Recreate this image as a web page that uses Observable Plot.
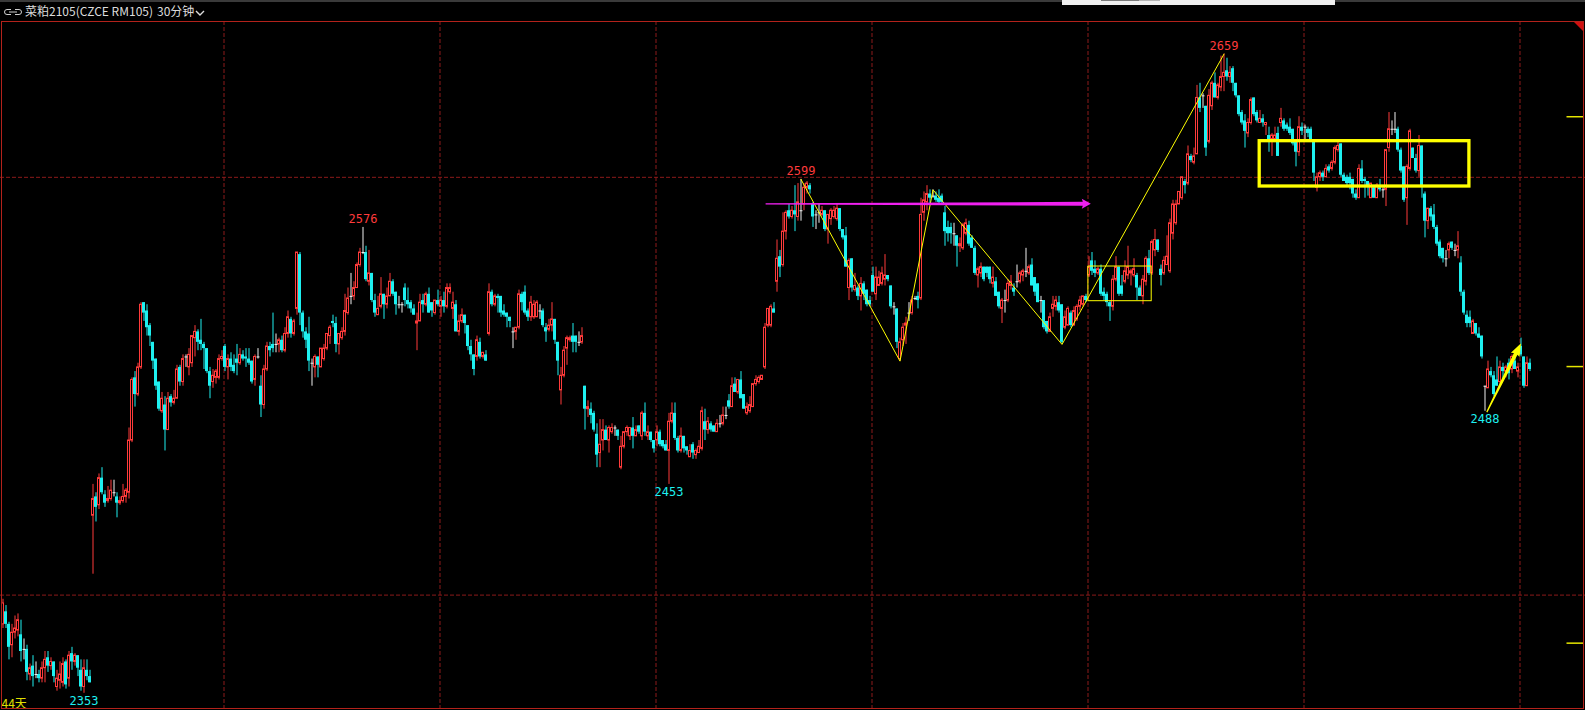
<!DOCTYPE html>
<html>
<head>
<meta charset="utf-8">
<script src="https://cdn.jsdelivr.net/npm/d3@7"></script>
<script src="https://cdn.jsdelivr.net/npm/@observablehq/plot@0.6"></script>
<style>
html,body{margin:0;padding:0;background:#000;}
#wrap{position:relative;width:1585px;height:710px;overflow:hidden;background:#000;}
#topstrip{position:absolute;left:0;top:0;width:1585px;height:2px;background:#3a3a3a;}
#popup{position:absolute;left:1062px;top:0;width:273px;height:5px;background:#efefef;}
#popbar1{position:absolute;left:39px;top:0;width:38px;height:1px;background:#7a7a7a;}
#popbar2{position:absolute;left:77px;top:0;width:21px;height:1px;background:#b4b4b4;}
#icon{position:absolute;left:4px;top:8px;}
.ttl{position:absolute;top:4px;font-family:"Noto Sans CJK SC","Noto Sans",sans-serif;font-size:12px;line-height:14px;color:#dcdcdc;white-space:pre;}
#chev{position:absolute;left:195px;top:10px;}
#chart{position:absolute;left:0;top:21px;}
#frame{position:absolute;left:1px;top:21px;width:1583px;height:688px;border:1px solid #b3221b;box-sizing:border-box;pointer-events:none;}
#corner{position:absolute;left:1574px;top:22px;width:0;height:0;border-top:9px solid #d01010;border-left:9px solid transparent;}
</style>
</head>
<body>
<div id="wrap">
  <div id="topstrip"></div>
  <div id="popup"><div id="popbar1"></div><div id="popbar2"></div></div>
  <svg id="icon" width="18" height="8" viewBox="0 0 18 8">
    <path d="M7,1.5 H3 A2.5,2.5 0 0 0 3,6.5 H7 M11,1.5 H15 A2.5,2.5 0 0 1 15,6.5 H11 M5,4 H13" fill="none" stroke="#cfcfcf" stroke-width="1"/>
  </svg>
  <div class="ttl" style="left:25px">菜粕2105(CZCE RM105)</div>
  <div class="ttl" style="left:157px">30分钟</div>
  <svg id="chev" width="10" height="7" viewBox="0 0 10 7"><polyline points="1,1 5,5 9,1" fill="none" stroke="#dcdcdc" stroke-width="1.4"/></svg>
  <div id="chart"></div>
  <div id="frame"></div>
  <div id="corner"></div>
</div>
<script>
// ---------- candle data (30-minute bars, oldest first) ----------
const opens = [
2386,2392,2386,2376,2382,2383,2381,2374,2374,2362,
2366,2362,2362,2360,2365,2370,2366,2368,2356,2359,
2358,2368,2360,2372,2368,2371,2364,2356,2364,2361,
2438,2447,2443,2456,2448,2445,2446,2449,2447,2444,
2445,2447,2449,2474,2504,2496,2509,2540,2536,2529,
2521,2513,2502,2488,2491,2479,2495,2492,2494,2509,
2502,2514,2509,2511,2523,2526,2522,2520,2518,2507,
2502,2504,2504,2513,2519,2509,2513,2510,2513,2511,
2515,2514,2513,2512,2503,2514,2500,2491,2508,2519,
2520,2520,2520,2522,2517,2525,2532,2525,2537,2563,
2535,2526,2525,2511,2509,2514,2509,2513,2518,2524,
2531,2530,2520,2523,2526,2535,2543,2543,2547,2558,
2564,2564,2550,2554,2541,2534,2538,2544,2539,2543,
2550,2545,2539,2539,2547,2541,2540,2537,2530,2531,
2541,2539,2544,2540,2535,2541,2538,2541,2538,2545,
2537,2539,2526,2531,2534,2529,2519,2515,2514,2521,
2514,2515,2525,2545,2539,2543,2543,2536,2535,2533,
2526,2526,2528,2544,2545,2536,2533,2533,2533,2536,
2536,2528,2527,2529,2532,2521,2498,2505,2518,2522,
2524,2524,2521,2521,2500,2489,2489,2487,2477,2468,
2474,2479,2474,2478,2480,2479,2461,2471,2478,2476,
2480,2476,2481,2476,2487,2476,2478,2474,2474,2478,
2474,2472,2469,2483,2487,2475,2469,2476,2471,2466,
2472,2467,2468,2470,2483,2479,2482,2481,2478,2482,
2482,2486,2493,2490,2501,2497,2503,2496,2487,2488,
2490,2501,2502,2503,2509,2529,2529,2537,2550,2562,
2558,2574,2584,2581,2584,2581,2584,2587,2595,2596,
2587,2582,2583,2582,2584,2575,2580,2581,2580,2585,
2575,2572,2547,2561,2546,2547,2543,2549,2546,2541,
2553,2544,2548,2549,2551,2553,2548,2538,2537,2513,
2522,2529,2535,2535,2542,2543,2542,2583,2588,2592,
2591,2591,2590,2591,2583,2576,2576,2573,2572,2567,
2566,2573,2577,2571,2566,2553,2554,2557,2557,2557,
2549,2550,2545,2537,2541,2541,2548,2547,2550,2550,
2553,2555,2554,2558,2552,2549,2541,2541,2531,2526,
2537,2538,2540,2539,2528,2529,2535,2529,2532,2538,
2539,2543,2553,2560,2556,2554,2556,2545,2544,2540,
2538,2551,2557,2548,2550,2553,2554,2553,2553,2547,
2543,2550,2561,2554,2565,2570,2556,2554,2558,2555,
2573,2578,2587,2590,2598,2597,2610,2607,2611,2638,
2639,2634,2617,2634,2645,2638,2643,2648,2651,2648,
2652,2645,2639,2631,2627,2621,2626,2638,2631,2626,
2628,2625,2620,2618,2618,2621,2626,2627,2625,2624,
2623,2617,2612,2624,2624,2623,2623,2618,2595,2600,
2602,2600,2605,2604,2607,2613,2616,2601,2600,2600,
2599,2592,2590,2604,2599,2598,2590,2595,2590,2595,
2594,2594,2614,2623,2623,2623,2613,2605,2590,2604,
2614,2609,2603,2615,2592,2579,2585,2582,2576,2569,
2566,2561,2565,2569,2565,2565,2559,2545,2534,2533,
2525,2530,2525,2524,2500,2499,2507,2505,2503,2502,
2509,2507,2511,2508,2512,2507,2519,2514,2500,2511
];
const highs = [
2398,2395,2387,2386,2390,2391,2388,2379,2376,2367,
2371,2368,2364,2368,2373,2373,2370,2368,2364,2368,
2370,2369,2373,2375,2372,2371,2369,2369,2369,2364,
2453,2449,2458,2461,2450,2452,2455,2455,2449,2447,
2453,2451,2480,2504,2507,2511,2540,2540,2539,2530,
2521,2513,2502,2497,2495,2497,2496,2498,2510,2510,
2515,2515,2518,2524,2529,2527,2532,2521,2518,2509,
2508,2508,2515,2517,2520,2515,2516,2515,2520,2518,
2517,2518,2518,2512,2515,2518,2505,2510,2521,2521,
2535,2525,2523,2524,2528,2536,2533,2532,2564,2564,
2536,2528,2533,2513,2515,2514,2518,2520,2525,2529,
2534,2533,2525,2528,2544,2547,2554,2550,2559,2566,
2576,2567,2565,2554,2544,2543,2552,2544,2547,2554,
2551,2545,2543,2540,2549,2547,2541,2539,2535,2544,
2544,2545,2547,2540,2541,2546,2543,2545,2549,2549,
2545,2541,2534,2537,2534,2529,2522,2515,2524,2523,
2516,2517,2549,2546,2544,2544,2543,2539,2535,2533,
2528,2528,2546,2545,2548,2537,2543,2541,2541,2539,
2537,2530,2532,2540,2532,2521,2509,2519,2524,2524,
2530,2524,2526,2528,2500,2493,2492,2488,2482,2484,
2484,2481,2481,2482,2481,2479,2476,2478,2481,2480,
2485,2481,2481,2488,2492,2481,2478,2474,2481,2479,
2474,2474,2487,2492,2492,2476,2480,2476,2471,2472,
2473,2470,2474,2490,2489,2485,2483,2481,2484,2486,
2490,2490,2496,2504,2504,2503,2507,2496,2492,2495,
2501,2505,2505,2505,2530,2537,2539,2540,2570,2565,
2583,2584,2587,2586,2596,2597,2599,2597,2598,2597,
2588,2584,2587,2586,2584,2582,2585,2586,2587,2585,
2575,2576,2561,2561,2554,2548,2552,2550,2546,2543,
2557,2557,2555,2557,2563,2553,2548,2540,2537,2523,
2530,2533,2540,2543,2543,2545,2590,2593,2596,2594,
2594,2593,2594,2592,2586,2579,2578,2578,2572,2571,
2578,2580,2579,2572,2567,2557,2559,2557,2557,2557,
2557,2552,2545,2542,2546,2551,2553,2549,2558,2555,
2556,2566,2558,2561,2552,2549,2543,2541,2531,2535,
2543,2543,2543,2539,2536,2538,2536,2538,2539,2543,
2543,2544,2562,2564,2560,2557,2558,2547,2545,2541,
2553,2562,2557,2553,2560,2567,2556,2561,2554,2548,
2553,2562,2565,2570,2575,2570,2558,2562,2572,2580,
2589,2589,2593,2600,2599,2615,2611,2614,2644,2645,
2640,2634,2642,2646,2650,2645,2658,2659,2657,2653,
2653,2645,2639,2632,2630,2628,2638,2638,2632,2632,
2630,2626,2624,2621,2624,2624,2633,2628,2626,2628,
2623,2617,2629,2626,2625,2624,2624,2618,2602,2603,
2603,2606,2606,2608,2615,2617,2616,2602,2601,2602,
2599,2594,2606,2608,2600,2598,2597,2596,2597,2599,
2595,2613,2631,2627,2631,2624,2614,2605,2606,2623,
2614,2611,2620,2615,2593,2585,2586,2587,2577,2570,
2566,2565,2569,2569,2568,2574,2562,2546,2536,2536,
2532,2530,2528,2524,2500,2512,2509,2507,2514,2512,
2511,2510,2513,2515,2514,2511,2523,2514,2514,2513
];
const lows = [
2384,2384,2369,2370,2379,2380,2368,2369,2359,2359,
2356,2360,2358,2358,2358,2363,2364,2358,2354,2355,
2356,2355,2356,2364,2366,2361,2354,2353,2359,2358,
2410,2435,2441,2448,2442,2444,2445,2447,2437,2443,
2444,2444,2446,2473,2490,2495,2508,2531,2524,2519,
2508,2498,2488,2487,2469,2479,2490,2491,2494,2500,
2500,2509,2505,2509,2514,2517,2517,2508,2506,2494,
2499,2501,2503,2512,2507,2503,2507,2506,2505,2510,
2512,2509,2510,2501,2500,2513,2485,2489,2507,2514,
2516,2516,2516,2516,2516,2523,2523,2524,2534,2529,
2523,2518,2507,2500,2504,2504,2509,2512,2517,2520,
2528,2516,2515,2522,2524,2534,2539,2541,2547,2557,
2563,2550,2548,2540,2533,2534,2537,2532,2537,2543,
2543,2534,2537,2535,2538,2537,2535,2534,2517,2531,
2535,2538,2535,2533,2534,2538,2533,2535,2537,2544,
2532,2526,2524,2530,2525,2517,2512,2505,2512,2513,
2513,2512,2524,2538,2538,2535,2533,2533,2528,2528,
2518,2522,2527,2536,2534,2531,2531,2532,2533,2532,
2528,2521,2526,2526,2520,2505,2491,2504,2510,2521,
2516,2516,2519,2520,2479,2485,2482,2478,2461,2461,
2469,2474,2468,2477,2476,2474,2460,2470,2476,2474,
2470,2476,2477,2474,2476,2474,2473,2468,2471,2471,
2470,2469,2453,2482,2474,2468,2468,2468,2467,2466,
2465,2465,2468,2469,2474,2477,2478,2478,2478,2480,
2481,2484,2489,2490,2497,2496,2494,2489,2486,2487,
2490,2500,2501,2503,2508,2528,2528,2535,2545,2552,
2557,2570,2580,2580,2574,2579,2579,2584,2592,2592,
2576,2575,2578,2581,2574,2568,2577,2580,2579,2574,
2570,2557,2541,2545,2545,2541,2536,2541,2538,2538,
2545,2541,2548,2548,2548,2550,2537,2534,2518,2512,
2519,2520,2531,2534,2541,2537,2541,2579,2584,2587,
2590,2588,2587,2587,2567,2569,2568,2567,2557,2564,
2565,2572,2567,2566,2553,2547,2552,2550,2552,2549,
2547,2543,2537,2530,2535,2540,2546,2543,2547,2549,
2550,2552,2553,2548,2543,2540,2535,2527,2525,2526,
2533,2536,2535,2520,2527,2529,2528,2529,2531,2536,
2538,2540,2552,2553,2552,2553,2543,2541,2538,2531,
2536,2550,2543,2543,2549,2551,2548,2552,2541,2543,
2539,2548,2553,2553,2562,2564,2548,2553,2558,2554,
2570,2577,2587,2589,2592,2596,2607,2606,2611,2631,
2633,2610,2616,2632,2638,2637,2641,2641,2646,2645,
2641,2638,2629,2625,2614,2619,2625,2629,2626,2626,
2624,2620,2612,2610,2617,2610,2624,2622,2622,2620,
2615,2605,2610,2620,2618,2619,2618,2598,2593,2598,
2598,2600,2602,2603,2606,2612,2600,2598,2596,2594,
2590,2589,2590,2597,2590,2591,2590,2590,2590,2593,
2590,2586,2612,2620,2621,2612,2602,2588,2577,2603,
2609,2602,2600,2590,2571,2575,2579,2575,2567,2561,
2559,2557,2561,2565,2562,2561,2543,2534,2528,2528,
2525,2524,2523,2513,2488,2499,2504,2495,2500,2500,
2503,2504,2503,2506,2508,2504,2514,2499,2500,2507
];
const closes = [
2396,2386,2375,2382,2384,2388,2373,2374,2363,2365,
2361,2362,2360,2365,2369,2366,2368,2361,2360,2362,
2367,2357,2371,2368,2371,2365,2356,2365,2361,2358,
2446,2442,2456,2449,2444,2446,2450,2449,2444,2445,
2447,2450,2474,2503,2496,2509,2539,2535,2528,2524,
2512,2500,2489,2494,2479,2494,2492,2494,2508,2502,
2513,2514,2515,2524,2526,2521,2520,2518,2507,2500,
2505,2507,2513,2514,2509,2513,2509,2507,2511,2515,
2513,2513,2511,2502,2514,2514,2491,2508,2519,2517,
2518,2520,2522,2517,2525,2533,2525,2531,2564,2535,
2526,2522,2512,2511,2514,2510,2518,2518,2525,2528,
2530,2520,2525,2526,2536,2542,2543,2547,2558,2564,
2564,2551,2554,2541,2535,2537,2544,2539,2543,2550,
2544,2539,2539,2539,2541,2539,2537,2534,2531,2540,
2539,2544,2535,2536,2541,2539,2541,2538,2547,2547,
2540,2526,2531,2534,2530,2519,2515,2508,2522,2514,
2516,2512,2545,2539,2543,2542,2535,2534,2533,2531,
2526,2528,2544,2540,2535,2533,2540,2539,2540,2536,
2529,2526,2529,2532,2522,2512,2505,2517,2523,2523,
2521,2521,2521,2524,2489,2490,2486,2479,2467,2472,
2479,2474,2480,2480,2480,2476,2471,2478,2480,2480,
2476,2479,2478,2487,2478,2478,2474,2470,2478,2472,
2471,2469,2483,2487,2475,2469,2476,2470,2469,2469,
2468,2469,2471,2488,2479,2483,2479,2478,2482,2482,
2486,2486,2490,2500,2497,2503,2494,2489,2490,2491,
2501,2503,2504,2505,2528,2537,2538,2535,2561,2557,
2574,2583,2581,2584,2582,2588,2584,2595,2597,2594,
2581,2582,2583,2584,2575,2582,2584,2584,2585,2575,
2571,2557,2560,2547,2548,2543,2549,2544,2539,2539,
2545,2552,2552,2554,2553,2551,2538,2538,2521,2521,
2528,2530,2535,2541,2542,2541,2582,2589,2592,2590,
2591,2589,2588,2588,2574,2573,2573,2573,2567,2568,
2577,2578,2568,2566,2554,2556,2557,2551,2554,2551,
2552,2543,2538,2541,2541,2549,2550,2545,2550,2554,
2555,2555,2557,2548,2545,2540,2541,2528,2526,2533,
2539,2541,2536,2521,2533,2537,2529,2536,2538,2541,
2543,2541,2557,2555,2554,2556,2544,2543,2540,2538,
2551,2557,2544,2544,2555,2557,2555,2556,2547,2543,
2551,2561,2554,2569,2570,2565,2553,2560,2562,2578,
2587,2587,2593,2600,2596,2611,2608,2610,2638,2633,
2639,2614,2639,2645,2638,2644,2648,2650,2648,2650,
2645,2639,2630,2626,2622,2626,2637,2630,2627,2628,
2626,2626,2618,2620,2620,2610,2628,2623,2623,2621,
2616,2612,2624,2622,2624,2621,2618,2602,2600,2602,
2600,2604,2603,2607,2614,2615,2601,2598,2597,2597,
2592,2590,2604,2598,2598,2596,2597,2590,2596,2594,
2594,2613,2623,2623,2623,2613,2603,2589,2605,2622,
2609,2603,2615,2596,2579,2585,2581,2576,2568,2562,
2561,2561,2568,2566,2565,2567,2545,2535,2530,2530,
2531,2525,2523,2514,2500,2508,2505,2496,2500,2509,
2507,2509,2506,2514,2508,2509,2515,2500,2511,2508
];

// ---------- grid / reference levels ----------
const dayBreaks = [73.5, 145.5, 217.5, 289.5, 361.5, 433.5, 505.5];   // bar index of session-day separators
const priceGrid = [2600, 2400];
const axisTicks = [2629, 2509.4, 2377];
const spanLabel = ["44天"];

// ---------- extreme labels ----------
const extremeIdx  = [27, 120, 222, 266, 407, 494];
const extremeVal  = [2353, 2576, 2453, 2599, 2659, 2488];
const extremeKind = ["low", "high", "low", "high", "high", "low"];

// ---------- drawn annotations (bar index / price) ----------
const zigIdx   = [266, 299, 310, 353, 407];
const zigPrice = [2599, 2512, 2594, 2520, 2659];
const smallBox = {i1: 361.8, i2: 382.9, p1: 2540.7, p2: 2557.3};
const bigBox   = {i1: 418.9, i2: 488.8, p1: 2595.6, p2: 2617.3};
const magentaArrow = {i1: 254.2, i2: 362.6, p1: 2587.3, p2: 2587.3};
const yellowArrow  = {i1: 494.6, i2: 506.0, p1: 2487.6, p2: 2520.6};

// ---------- styles ----------
const RED = "#ff3b3b", CYAN = "#1ef0f0", WHITE = "#f0f0f0", YELLOW = "#ffff00",
      MAGENTA = "#f020f0", GRID = "#8c1a1a";
const W = 1585, H = 689;
const xDomain = [-2.5 / 3, (W - 2.5) / 3];
const yDomain = [2344.76, 2674.59];

const N = Math.min(opens.length, highs.length, lows.length, closes.length);
const bars = d3.range(N).map(i => ({i, o: opens[i], h: highs[i], l: lows[i], c: closes[i]}));
const up = bars.filter(d => d.c > d.o);
const down = bars.filter(d => d.c < d.o);
const flat = bars.filter(d => d.c === d.o);

const extremes = extremeIdx.map((i, k) => ({i, v: extremeVal[k], kind: extremeKind[k]}));
const zig = zigIdx.map((i, k) => ({i, p: zigPrice[k]}));

const xs = d3.scaleLinear(xDomain, [0, W]);
const ys = d3.scaleLinear(yDomain, [H, 0]);
const pxLen = a => Math.hypot(xs(a.i2) - xs(a.i1), ys(a.p2) - ys(a.p1));
const angleOf = a => Math.atan2(xs(a.i2) - xs(a.i1), -(ys(a.p2) - ys(a.p1))) * 180 / Math.PI;

// whole tapered arrow drawn as one symbol, tip at the origin, pointing up
const arrowShape = (len, headLen, headHalf, neckHalf, tailHalf) => ({
  draw(ctx) {
    ctx.moveTo(0, 0);
    ctx.lineTo(headHalf, headLen);
    ctx.lineTo(neckHalf, headLen - 1);
    ctx.lineTo(tailHalf, len);
    ctx.lineTo(-tailHalf, len);
    ctx.lineTo(-neckHalf, headLen - 1);
    ctx.lineTo(-headHalf, headLen);
    ctx.closePath();
  }
});
const hline = {draw(ctx) { ctx.moveTo(-19, 0); ctx.lineTo(-2, 0); }};

const chart = Plot.plot({
  width: W, height: H,
  marginTop: 0, marginRight: 0, marginBottom: 0, marginLeft: 0,
  style: {background: "#000", overflow: "visible"},
  x: {type: "linear", domain: xDomain, range: [0, W], axis: null},
  y: {type: "linear", domain: yDomain, range: [H, 0], axis: null},
  marks: [
    Plot.ruleX(dayBreaks, {stroke: GRID, strokeDasharray: "4,2", dx: 0.5}),
    Plot.ruleY(priceGrid, {stroke: GRID, strokeDasharray: "4,2"}),
    // up bars: red hollow
    Plot.ruleX(up, {x: "i", y1: "l", y2: "h", stroke: RED}),
    Plot.rect(up, {x1: d => d.i - 1/3, x2: d => d.i + 1/3, y1: "o", y2: "c", fill: "#000", stroke: RED}),
    // down bars: cyan solid
    Plot.ruleX(down, {x: "i", y1: "l", y2: "h", stroke: CYAN}),
    Plot.rect(down, {x1: d => d.i - 0.5, x2: d => d.i + 0.5, y1: "o", y2: "c", fill: CYAN}),
    // unchanged bars: white cross
    Plot.ruleX(flat, {x: "i", y1: "l", y2: "h", stroke: WHITE}),
    Plot.link(flat, {x1: d => d.i - 0.5, x2: d => d.i + 0.5, y1: "o", y2: "c", stroke: WHITE}),
    // annotations
    Plot.line(zig, {x: "i", y: "p", stroke: YELLOW, strokeWidth: 1}),
    Plot.rect([smallBox], {x1: "i1", x2: "i2", y1: "p1", y2: "p2", fill: "none", stroke: YELLOW, strokeWidth: 1}),
    Plot.rect([bigBox], {x1: "i1", x2: "i2", y1: "p1", y2: "p2", fill: "none", stroke: YELLOW, strokeWidth: 3.3}),
    Plot.dot([magentaArrow], {x: "i2", y: "p2", r: 4, symbol: arrowShape(pxLen(magentaArrow), 9, 5, 2, 0.6),
      fill: MAGENTA, stroke: "none", rotate: angleOf(magentaArrow)}),
    Plot.dot([yellowArrow], {x: "i2", y: "p2", r: 4, symbol: arrowShape(pxLen(yellowArrow), 13, 4.8, 2, 0.6),
      fill: YELLOW, stroke: "none", rotate: angleOf(yellowArrow)}),
    Plot.dot(axisTicks, {y: d => d, frameAnchor: "right", r: 4, symbol: hline, fill: "none", stroke: "#e6e600"}),
    // labels
    Plot.text(extremes.filter(d => d.kind === "high"), {x: "i", y: "v", text: d => String(d.v), fill: RED, dy: -8, fontSize: 12, fontFamily: "DejaVu Sans Mono"}),
    Plot.text(extremes.filter(d => d.kind === "low"), {x: "i", y: "v", text: d => String(d.v), fill: CYAN, dy: 8, fontSize: 12, fontFamily: "DejaVu Sans Mono"}),
    Plot.text(spanLabel, {frameAnchor: "bottom-left", dx: 1, dy: -3, fill: "#e0e000", fontSize: 12, fontFamily: "Noto Sans CJK SC"})
  ]
});
document.getElementById("chart").appendChild(chart);
</script>
</body>
</html>
